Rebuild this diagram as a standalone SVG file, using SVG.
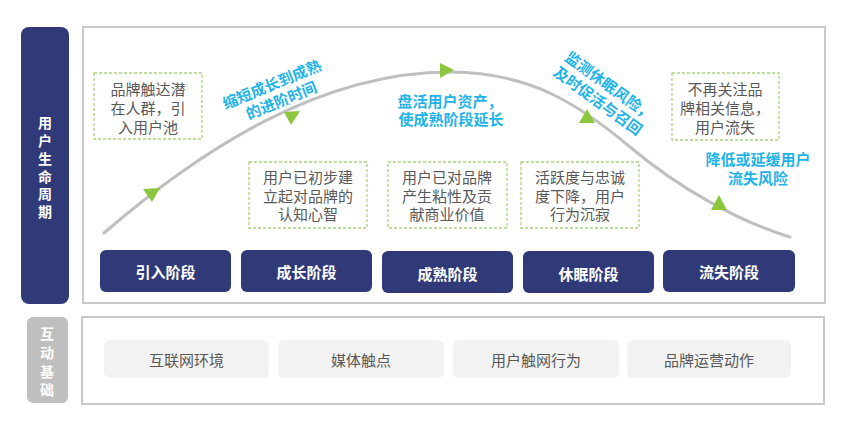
<svg xmlns="http://www.w3.org/2000/svg" width="848" height="422" viewBox="0 0 848 422">
<defs>
<style>
text{font-family:"Noto Sans CJK SC","Noto Sans",sans-serif;dominant-baseline:central;text-anchor:middle}
.frame{fill:#fff;stroke:#c9c9c9;stroke-width:2}
.side{fill:#313a78}
.sideg{fill:#bfbfbf}
.sidet{fill:#fff;font-size:14px;font-weight:bold}
.stage{fill:#313a78}
.staget{fill:#fff;font-size:15px;font-weight:bold}
.note{fill:#fff;stroke:#a8d47e;stroke-width:1.3;stroke-dasharray:3 2}
.notet{fill:#595959;font-size:15px}
.blue{fill:#1fb3e8;font-size:15px;font-weight:bold}
.base{fill:#f2f2f2}
.baset{fill:#595959;font-size:15px}
.curve{fill:none;stroke:#bfbfbf;stroke-width:3;stroke-linecap:round}
.arr{fill:#8cc63f}
</style>
</defs>
<rect width="848" height="422" fill="#fff"/>

<g id="lifecycle-label">
<rect class="side" x="21" y="27" width="48" height="277" rx="8"/>
<text class="sidet" x="45" y="122">用</text>
<text class="sidet" x="45" y="140">户</text>
<text class="sidet" x="45" y="158">生</text>
<text class="sidet" x="45" y="176">命</text>
<text class="sidet" x="45" y="193">周</text>
<text class="sidet" x="45" y="211">期</text>
</g>

<g id="lifecycle-frame">
<rect class="frame" x="83" y="27" width="742" height="276"/>
</g>

<g id="connectors">
<path class="curve" d="M104,233 C200,150 320,72 450,72 C530,72 580,105 630,147 S740,222 790,237"/>
<polygon class="arr" points="143,189 160,188 152,202"/>
<polygon class="arr" points="284,112 300,111 291,125"/>
<polygon class="arr" points="440,63 440,78 454,70"/>
<polygon class="arr" points="579,123 595,123 587,109"/>
<polygon class="arr" points="711,210 727,210 719,195"/>
</g>

<g id="note-intro">
<rect class="note" x="94" y="73" width="108" height="66"/>
<text class="notet" x="148" y="88">品牌触达潜</text>
<text class="notet" x="148" y="107">在人群，引</text>
<text class="notet" x="148" y="126">入用户池</text>
</g>
<g id="note-growth">
<rect class="note" x="249" y="162" width="118" height="66"/>
<text class="notet" x="308" y="176">用户已初步建</text>
<text class="notet" x="308" y="195">立起对品牌的</text>
<text class="notet" x="308" y="213">认知心智</text>
</g>
<g id="note-mature">
<rect class="note" x="388" y="162" width="119" height="66"/>
<text class="notet" x="447" y="176">用户已对品牌</text>
<text class="notet" x="447" y="195">产生粘性及贡</text>
<text class="notet" x="447" y="213">献商业价值</text>
</g>
<g id="note-dormant">
<rect class="note" x="521" y="162" width="118" height="66"/>
<text class="notet" x="580" y="176">活跃度与忠诚</text>
<text class="notet" x="580" y="195">度下降，用户</text>
<text class="notet" x="580" y="213">行为沉寂</text>
</g>
<g id="note-churn">
<rect class="note" x="672" y="73" width="107" height="67"/>
<text class="notet" x="725" y="88">不再关注品</text>
<text class="notet" x="725" y="107">牌相关信息，</text>
<text class="notet" x="725" y="126">用户流失</text>
</g>

<g id="tip-growth">
<text class="blue" transform="translate(271.5,83.5) rotate(-22.5)">缩短成长到成熟</text>
<text class="blue" transform="translate(281,99.5) rotate(-22.5)">的进阶时间</text>
</g>
<g id="tip-mature">
<text class="blue" x="450" y="100">盘活用户资产，</text>
<text class="blue" x="451" y="118">使成熟阶段延长</text>
</g>
<g id="tip-dormant">
<text class="blue" transform="translate(610,85) rotate(36)">监测休眠风险，</text>
<text class="blue" transform="translate(598.5,100) rotate(36)">及时促活与召回</text>
</g>
<g id="tip-churn">
<text class="blue" x="758" y="158">降低或延缓用户</text>
<text class="blue" x="758" y="177">流失风险</text>
</g>

<g id="stage-intro">
<rect class="stage" x="100" y="250" width="131" height="42" rx="6"/>
<text class="staget" x="165.5" y="271">引入阶段</text>
</g>
<g id="stage-growth">
<rect class="stage" x="241" y="250" width="131" height="42" rx="6"/>
<text class="staget" x="306.5" y="271">成长阶段</text>
</g>
<g id="stage-mature">
<rect class="stage" x="382" y="251" width="131" height="42" rx="6"/>
<text class="staget" x="447.5" y="273">成熟阶段</text>
</g>
<g id="stage-dormant">
<rect class="stage" x="523" y="251" width="131" height="42" rx="6"/>
<text class="staget" x="588.5" y="273">休眠阶段</text>
</g>
<g id="stage-churn">
<rect class="stage" x="663" y="250" width="132" height="42" rx="6"/>
<text class="staget" x="729" y="271">流失阶段</text>
</g>

<g id="basis-label">
<rect class="sideg" x="27" y="317" width="41" height="86" rx="6"/>
<text class="sidet" x="47" y="333">互</text>
<text class="sidet" x="47" y="352">动</text>
<text class="sidet" x="47" y="371">基</text>
<text class="sidet" x="47" y="389">础</text>
</g>

<g id="basis-frame">
<rect class="frame" x="82" y="317" width="742" height="87"/>
</g>

<g id="basis-internet">
<rect class="base" x="104" y="340" width="165" height="38" rx="6"/>
<text class="baset" x="186.5" y="359">互联网环境</text>
</g>
<g id="basis-media">
<rect class="base" x="278" y="340" width="166" height="38" rx="6"/>
<text class="baset" x="361" y="359">媒体触点</text>
</g>
<g id="basis-behavior">
<rect class="base" x="453" y="340" width="166" height="38" rx="6"/>
<text class="baset" x="536" y="359">用户触网行为</text>
</g>
<g id="basis-brand">
<rect class="base" x="627" y="340" width="164" height="38" rx="6"/>
<text class="baset" x="709" y="359">品牌运营动作</text>
</g>
</svg>
